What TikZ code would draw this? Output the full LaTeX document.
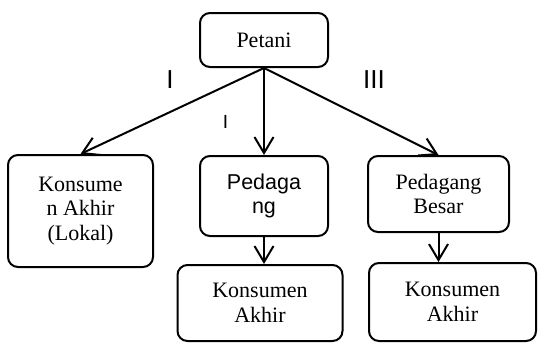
\documentclass[tikz,border=0pt]{standalone}
\usepackage{fontspec}
\setmainfont{Liberation Serif}
\newfontfamily\arialfont{Liberation Sans}
\usetikzlibrary{arrows.meta}
\tikzset{
  box/.style={draw, line width=2pt, rounded corners=10pt, align=center,
    inner sep=0pt, font=\fontsize{22}{24.5}\selectfont},
  flow/.style={-{Straight Barb[length=16pt,width=19pt,line width=2pt]}, line width=2pt},
  lvl/.style={font=\arialfont\fontsize{26}{30}\selectfont, inner sep=0pt}
}

\begin{document}
\begin{tikzpicture}[x=1pt,y=-1pt]
    \useasboundingbox (0,0) rectangle (538,343);
    \node[box, minimum width=128pt, minimum height=54pt] (petani) at (264,40) {Petani};
    \node[box, minimum width=145pt, minimum height=112pt] (lokal) at (80.5,211) {Konsume\\n Akhir\\(Lokal)};
    \node[box, minimum width=128pt, minimum height=80pt, font=\arialfont\fontsize{21.5}{24.5}\selectfont] (pedagang) at (264,196) {Pedaga\\ng};
    \node[box, minimum width=141pt, minimum height=76pt] (besar) at (438.5,194) {Pedagang\\Besar};
    \node[box, minimum width=165pt, minimum height=76pt] (konsA) at (260,303) {Konsumen\\Akhir};
    \node[box, minimum width=167pt, minimum height=78pt] (konsB) at (452.5,302) {Konsumen\\Akhir};

    \node[lvl] (l1) at (170,80) {I};
    \node[lvl] (l3) at (374,80) {III};
    \node[lvl, font=\arialfont\fontsize{19}{22}\selectfont] (l2) at (225.5,122) {I};

    \draw[flow] (petani.south) -- (lokal.north);
    \draw[flow] (petani.south) -- (pedagang.north);
    \draw[flow] (petani.south) -- (besar.north);
    \draw[flow] (pedagang.south) -- (pedagang.south |- konsA.north);
    \draw[flow] (besar.south) -- (besar.south |- konsB.north);
\end{tikzpicture}
\end{document}
